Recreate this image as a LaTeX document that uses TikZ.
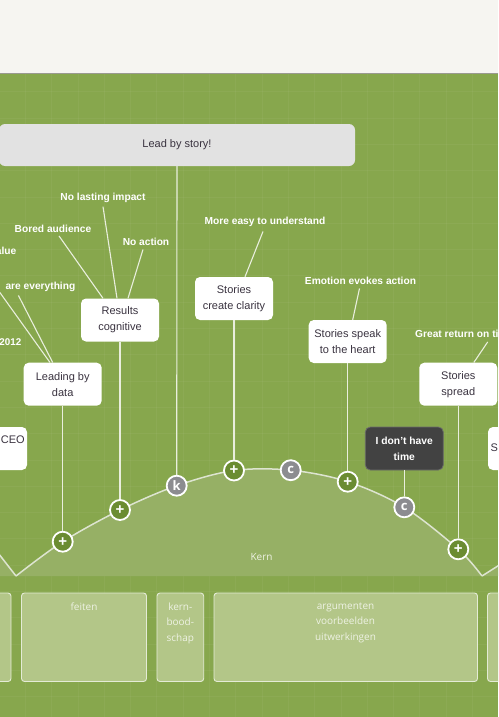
\documentclass[tikz,border=0pt]{standalone}
\usepackage{fontspec}
\setmainfont{Liberation Sans}
\newfontfamily\osans{Open Sans}
\definecolor{topbg}{HTML}{F6F5F1}
\definecolor{bggreen}{HTML}{87A74D}
\definecolor{lightfill}{HTML}{96B065}
\definecolor{boxgreen}{HTML}{B3C688}
\definecolor{boxline}{HTML}{E4EBD6}
\definecolor{boxtext}{HTML}{EEF2E4}
\definecolor{markgreen}{HTML}{6B8C32}
\definecolor{markgray}{HTML}{8C8C90}
\definecolor{linecol}{HTML}{E9EEDD}
\definecolor{curvecol}{HTML}{DDE4D0}
\definecolor{txtdark}{HTML}{3A3340}
\definecolor{darkbox}{HTML}{424242}
\definecolor{darkline}{HTML}{6A6A6A}
\definecolor{storyfill}{HTML}{E2E2E2}
\definecolor{shadowcol}{HTML}{9A9A90}
\begin{document}
\begin{tikzpicture}[x=1pt,y=-1pt,
  card/.style={fill=white, rounded corners=5pt, text=txtdark, align=center,
    font=\fontsize{11}{16}\selectfont, inner sep=0pt, minimum width=78pt, minimum height=43pt},
  cardtxt/.style={text=txtdark, font=\fontsize{11}{16}\selectfont, inner sep=0pt},
  darkcard/.style={card, fill=darkbox, draw=darkline, line width=0.8pt, text=white,
    font=\bfseries\fontsize{10.3}{16}\selectfont},
  storybox/.style={fill=storyfill, rounded corners=6pt, text=txtdark,
    font=\fontsize{11}{13}\selectfont, inner sep=0pt, minimum width=356pt, minimum height=42pt},
  lbl/.style={text=white, font=\bfseries\fontsize{10.2}{12}\selectfont, inner sep=0pt},
  conn/.style={draw=linecol, line width=1.1pt},
  plusm/.style={circle, fill=markgreen, draw=white, line width=1.8pt, minimum size=20pt,
    inner sep=0pt, text=white, font=\bfseries\fontsize{15}{15}\selectfont},
  letm/.style={plusm, fill=markgray, font=\osans\bfseries\fontsize{13}{13}\selectfont},
  bbox/.style={fill=boxgreen, draw=boxline, line width=0.9pt, rounded corners=3pt},
  btext/.style={text=boxtext, font=\osans\fontsize{10}{15.5}\selectfont, align=center,
    anchor=north, inner sep=0pt},
  gridl/.style={draw=white, opacity=0.045, line width=0.8pt}
]
\useasboundingbox (0,0) rectangle (498,717);
\begin{scope}
\clip (0,0) rectangle (498,717);
% backgrounds
\fill[topbg] (0,0) rectangle (498,73);
\fill[bggreen] (0,73) rectangle (498,717);
\draw[shadowcol, line width=1pt] (0,73.5) -- (498,73.5);
\foreach \i in {0,...,19} \draw[gridl] ({-1+26.3*\i},74) -- ({-1+26.3*\i},717);
\foreach \j in {0,...,24} \draw[gridl] (0,{91.7+26.3*\j}) -- (498,{91.7+26.3*\j});

% light fill under arcs
\fill[lightfill] plot[smooth, tension=0.55] coordinates {(16,576) (62.7,541.7) (120,510) (176.7,485.7) (234,470.5) (290.7,470.2) (347.7,481.7) (404.3,507.3) (458.3,549.3) (482,576)} -- cycle;
\fill[lightfill] (-12,540) -- (16,576) -- (-12,576) -- cycle;
\fill[lightfill] (482,576) -- (512,557) -- (512,576) -- cycle;
% curve
\draw[curvecol, line width=1.5pt] plot[smooth, tension=0.55] coordinates {(16,576) (62.7,541.7) (120,510) (176.7,485.7) (234,470.5) (290.7,470.2) (347.7,481.7) (404.3,507.3) (458.3,549.3) (482,576)};
\draw[curvecol, line width=1.5pt] (-12,540) -- (16,576);
\draw[curvecol, line width=1.5pt] (482,576) -- (512,557);

% bottom boxes
\draw[bbox] (-10,593) rectangle (11,681.5);
\draw[bbox] (21.5,593) rectangle (146.5,681.5);
\draw[bbox] (157,593) rectangle (203.7,681.5);
\draw[bbox] (214,593) rectangle (477.5,681.5);
\draw[bbox] (487.5,593) rectangle (520,681.5);
\node[btext] (tfeiten) at (84,602.5) {feiten};
\node[btext] (tkern) at (180.3,602.5) {kern-\\bood-\\schap};
\node[btext] (targ) at (345.5,602.5) {argumenten\\voorbeelden\\uitwerkingen};
\node[text=boxtext, font=\osans\fontsize{10}{12}\selectfont, inner sep=0pt] (kernlbl) at (261.5,557) {Kern};

% top box
\node[storybox] (story) at (177,145) {Lead by story!};

% cards
\node[card] (lead) at (62.7,384.2) {Leading by\\data};
\node[card] (res) at (120,320) {Results\\cognitive};
\node[card] (clar) at (234,298.5) {Stories\\create clarity};
\node[card] (heart) at (347.7,341.5) {Stories speak\\to the heart};
\node[card] (spread) at (458.3,384.2) {Stories\\spread};
\node[darkcard] (time) at (404.3,448.5) {I don't have\\time};
\node[card, minimum width=50pt] (ceo) at (2,448.5) {};
\node[cardtxt, anchor=east] (ceot) at (25,439.5) {CEO};
\node[card, minimum width=50pt] (sbox) at (513,448.5) {};
\node[cardtxt, anchor=west] (sboxt) at (490.5,447.5) {S};

% labels
\node[lbl] (nolast) at (103,197.7) {No lasting impact};
\node[lbl] (bored) at (53,229) {Bored audience};
\node[lbl] (noact) at (146,241.5) {No action};
\node[lbl, anchor=east] (alue) at (16.5,250.5) {alue};
\node[lbl, anchor=east] (every) at (75.5,286.5) {are everything};
\node[lbl, anchor=east, font=\bfseries\fontsize{9.8}{12}\selectfont] (y2012) at (21.5,342) {2012};
\node[lbl] (easy) at (265,221.5) {More easy to understand};
\node[lbl] (emo) at (360.5,280.5) {Emotion evokes action};
\node[lbl, anchor=west] (great) at (415,334) {Great return on time};
\coordinate (offl) at (-27,255);

% markers
\node[plusm] (m1) at (62.7,541.7) {+};
\node[plusm] (m2) at (120,510) {+};
\node[letm] (mk) at (176.7,485.7) {k};
\node[plusm] (m3) at (234,470.5) {+};
\node[letm] (mc1) at (290.7,470.2) {c};
\node[plusm] (m4) at (347.7,481.7) {+};
\node[letm] (mc2) at (404.3,507.3) {c};
\node[plusm] (m5) at (458.3,549.3) {+};

% connectors: labels to cards
\draw[conn] ([yshift=-4pt]nolast.south) -- ([xshift=-3pt]res.north);
\draw[conn] ([xshift=6pt,yshift=-3pt]bored.south) -- ([xshift=-17pt]res.north);
\draw[conn] ([xshift=-3pt,yshift=-4pt]noact.south) -- ([xshift=8pt]res.north);
\draw[conn] (offl) -- ([xshift=-12.7pt]lead.north);
\draw[conn] ([xshift=-22pt,yshift=-4pt]every.south) -- ([xshift=-10pt]lead.north);
\draw[conn] ([xshift=-2pt,yshift=-5pt]easy.south) -- ([xshift=11pt]clar.north);
\draw[conn] ([xshift=-1pt,yshift=-4pt]emo.south) -- ([xshift=5pt]heart.north);
\draw[conn] ([xshift=72.7pt,yshift=-4pt]great.south west) -- ([xshift=15.5pt]spread.north);

% connectors: cards to markers
\draw[conn] (lead.south) -- (m1.north);
\draw[conn] (res.south) -- (m2.north);
\draw[conn] (story.south) -- (mk.north);
\draw[conn] (clar.south) -- (m3.north);
\draw[conn] (heart.south) -- (m4.north);
\draw[conn] (time.south) -- (mc2.north);
\draw[conn] (spread.south) -- (m5.north);
\end{scope}
\end{tikzpicture}
\end{document}
